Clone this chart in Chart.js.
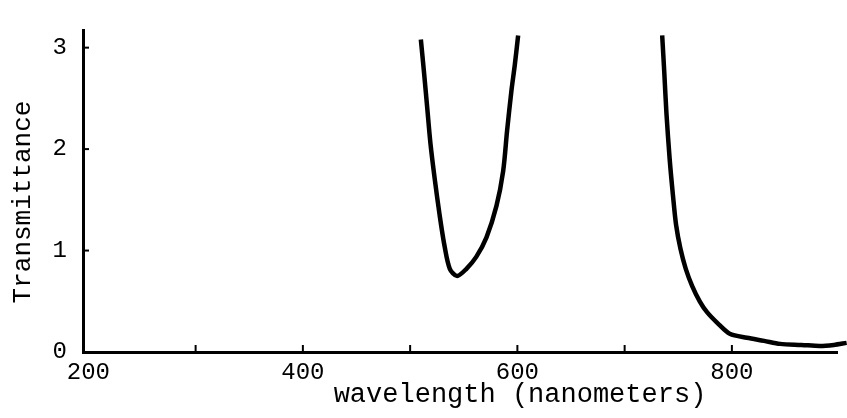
<!DOCTYPE html>
<html>
<head>
<meta charset="utf-8">
<script src="https://cdn.jsdelivr.net/npm/chart.js@4/dist/chart.umd.min.js"></script>
<style>
  html, body { margin: 0; padding: 0; background: #fff; }
  #wrap { width: 847px; height: 418px; }
</style>
</head>
<body>
<div id="wrap"><canvas id="specChart"></canvas></div>
<script>
// tick values
const xTickValues = [200, 300, 400, 500, 600, 700, 800];
const xLabelled = [200, 400, 600, 800];
const yTickValues = [0, 1, 2, 3];

// first band (U shape between ~510 and 600 nm)
const bandWavelength = [510, 513, 516, 519, 523, 527.5, 532, 537, 543.8, 552.5, 561.8, 571.2, 580.5, 586.7, 590.4, 594.5, 597.6, 600.7];
const bandTransmit = [3.08, 2.75, 2.4, 2.05, 1.7, 1.35, 1.05, 0.82, 0.75, 0.82, 0.94, 1.13, 1.44, 1.78, 2.18, 2.58, 2.83, 3.12];

// second band (falling edge from ~735 nm)
const edgeWavelength = [735, 737, 739, 742, 745, 748, 752, 757, 763, 770, 777, 788, 798, 814, 830, 845, 865, 882, 895, 907];
const edgeTransmit = [3.12, 2.75, 2.35, 1.9, 1.55, 1.25, 1.02, 0.82, 0.65, 0.5, 0.39, 0.27, 0.18, 0.14, 0.11, 0.08, 0.07, 0.06, 0.07, 0.09];

const FONT = 'Liberation Mono, Courier New, monospace';

function toPoints(xs, ys) {
    return xs.map((x, i) => ({ x: x, y: ys[i] }));
}

// short inward tick marks on both axes + the two axis titles
const axisMarks = {
    id: 'axisMarks',
    afterDraw(chart) {
        const ctx = chart.ctx;
        const xs = chart.scales.x;
        const ys = chart.scales.y;
        const area = chart.chartArea;
        ctx.save();
        ctx.strokeStyle = '#000';
        ctx.lineWidth = 2;
        xTickValues.forEach(v => {
            if (v === 200) return;
            const px = xs.getPixelForValue(v);
            ctx.beginPath();
            ctx.moveTo(px, area.bottom);
            ctx.lineTo(px, area.bottom - 7);
            ctx.stroke();
        });
        yTickValues.forEach(v => {
            if (v === 0) return;
            const py = ys.getPixelForValue(v);
            ctx.beginPath();
            ctx.moveTo(area.left, py);
            ctx.lineTo(area.left + 6, py);
            ctx.stroke();
        });
        ctx.fillStyle = '#000';
        ctx.textAlign = 'center';
        ctx.textBaseline = 'middle';
        ctx.font = '27px ' + FONT;
        ctx.fillText('wavelength (nanometers)', 520, 395);
        // rotated y title
        ctx.translate(23, 202);
        ctx.rotate(-Math.PI / 2);
        ctx.font = '26px ' + FONT;
        ctx.fillText('Transmittance', 0, 0);
        ctx.restore();
    }
};

const chart = new Chart(document.getElementById('specChart'), {
    type: 'line',
    data: {
        datasets: [{
            data: toPoints(bandWavelength, bandTransmit),
            borderColor: '#000',
            borderWidth: 4.5,
            pointRadius: 0,
            tension: 0.3,
            clip: false
        }, {
            data: toPoints(edgeWavelength, edgeTransmit),
            borderColor: '#000',
            borderWidth: 4.5,
            pointRadius: 0,
            tension: 0.3,
            clip: false
        }]
    },
    options: {
        responsive: true,
        maintainAspectRatio: false,
        animation: false,
        layout: { padding: { top: 10, right: 10, left: 0, bottom: 0 } },
        plugins: { legend: { display: false }, tooltip: { enabled: false } },
        scales: {
            x: {
                type: 'linear',
                min: 195,
                max: 898,
                afterFit: s => { s.height = 66; },
                afterBuildTicks: s => { s.ticks = xLabelled.map(v => ({ value: v })); },
                border: { color: '#000', width: 3 },
                grid: { drawOnChartArea: false, drawTicks: false },
                ticks: { color: '#000', padding: 6, maxRotation: 0, font: { family: FONT, size: 24 } }
            },
            y: {
                min: 0,
                max: 3.17,
                afterFit: s => { s.width = 83; },
                afterBuildTicks: s => { s.ticks = yTickValues.map(v => ({ value: v })); },
                border: { color: '#000', width: 3 },
                grid: { drawOnChartArea: false, drawTicks: false },
                ticks: { color: '#000', padding: 16, font: { family: FONT, size: 24 } }
            }
        }
    },
    plugins: [axisMarks]
});
</script>
</body>
</html>
